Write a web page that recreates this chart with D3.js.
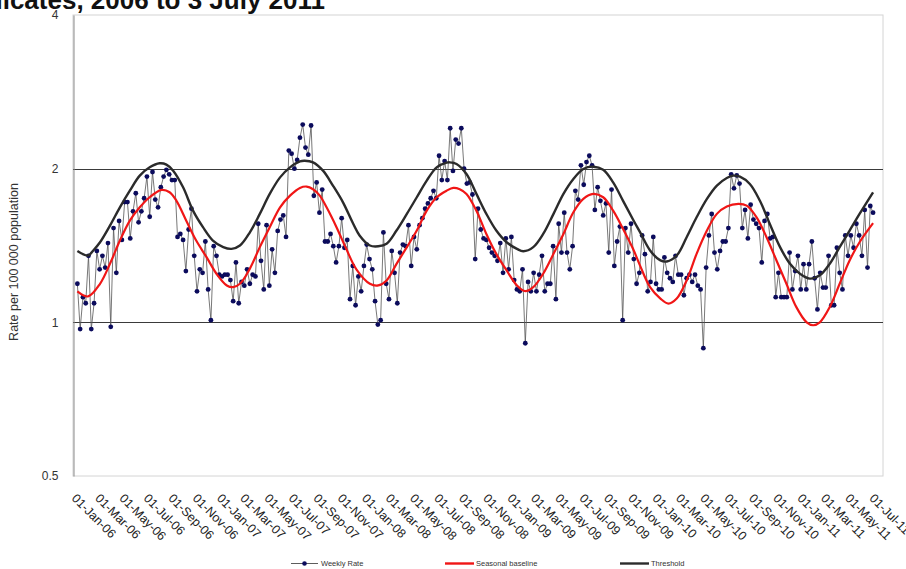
<!DOCTYPE html>
<html>
<head>
<meta charset="utf-8">
<script src="https://cdn.jsdelivr.net/npm/d3@7"></script>
<style>
  html, body { margin: 0; padding: 0; background: #fff; }
  svg { display: block; font-family: "Liberation Sans", Arial, sans-serif; }
</style>
</head>
<body>
<svg id="chart" width="906" height="569"></svg>
<script>
// Weekly notification rate per 100 000 population, weeks ending 8 Jan 2006 .. 3 Jul 2011
const firstWeek = "2006-01-08";
const weeklyRate = [
  1.19, 0.97, 1.12, 1.09, 1.35, 0.97, 1.09, 1.38, 1.27, 1.35,
  1.28, 1.43, 0.98, 1.53, 1.25, 1.58, 1.45, 1.72, 1.72, 1.46,
  1.65, 1.79, 1.57, 1.65, 1.75, 1.93, 1.61, 1.97, 1.74, 1.68,
  1.84, 1.93, 1.99, 1.95, 1.90, 1.90, 1.47, 1.49, 1.45, 1.26,
  1.52, 1.67, 1.35, 1.15, 1.27, 1.25, 1.44, 1.16, 1.01, 1.41,
  1.35, 1.24, 1.23, 1.24, 1.24, 1.21, 1.10, 1.31, 1.09, 1.20,
  1.18, 1.27, 1.19, 1.24, 1.23, 1.56, 1.32, 1.16, 1.55, 1.18,
  1.39, 1.25, 1.51, 1.59, 1.62, 1.47, 2.17, 2.14, 2.00, 2.08,
  2.30, 2.44, 2.20, 2.13, 2.43, 1.77, 1.88, 1.64, 1.82, 1.44,
  1.44, 1.49, 1.41, 1.31, 1.41, 1.60, 1.40, 1.45, 1.11, 1.29,
  1.08, 1.23, 1.15, 1.29, 1.42, 1.33, 1.27, 1.10, 0.99, 1.01,
  1.50, 1.19, 1.11, 1.38, 1.25, 1.09, 1.37, 1.42, 1.41, 1.55,
  1.29, 1.47, 1.39, 1.55, 1.60, 1.67, 1.71, 1.75, 1.81, 1.75,
  2.12, 1.90, 2.07, 1.90, 2.40, 1.98, 2.28, 2.24, 2.40, 2.00,
  1.87, 1.88, 1.78, 1.33, 1.67, 1.52, 1.46, 1.45, 1.40, 1.37,
  1.35, 1.32, 1.43, 1.25, 1.46, 1.27, 1.47, 1.21, 1.16, 1.15,
  1.27, 0.91, 1.20, 1.15, 1.25, 1.15, 1.24, 1.35, 1.15, 1.19,
  1.19, 1.41, 1.11, 1.56, 1.37, 1.64, 1.37, 1.27, 1.41, 1.81,
  1.74, 2.03, 1.86, 2.06, 2.12, 2.03, 1.66, 1.84, 1.73, 1.62,
  1.71, 1.37, 1.82, 1.29, 1.44, 1.54, 1.01, 1.53, 1.37, 1.56,
  1.33, 1.19, 1.25, 1.48, 1.36, 1.15, 1.20, 1.47, 1.19, 1.16,
  1.16, 1.34, 1.25, 1.22, 1.20, 1.35, 1.24, 1.24, 1.13, 1.22,
  1.24, 1.20, 1.24, 1.18, 1.16, 0.89, 1.28, 1.48, 1.63, 1.37,
  1.27, 1.38, 1.44, 1.44, 1.53, 1.95, 1.83, 1.94, 1.87, 1.53,
  1.66, 1.46, 1.70, 1.59, 1.56, 1.53, 1.31, 1.58, 1.63, 1.46,
  1.47, 1.12, 1.25, 1.12, 1.12, 1.12, 1.37, 1.16, 1.26, 1.35,
  1.16, 1.30, 1.16, 1.30, 1.44, 1.22, 1.06, 1.25, 1.17, 1.17,
  1.35, 1.08, 1.08, 1.40, 1.25, 1.16, 1.48, 1.35, 1.48, 1.40,
  1.56, 1.48, 1.35, 1.66, 1.28, 1.69, 1.64
];

// Seasonal baseline, [date, rate]
const baselineDates = [
  "2006-01-08","2006-02-04","2006-03-06","2006-03-31","2006-04-25","2006-05-20","2006-06-14","2006-07-09",
  "2006-08-08","2006-08-28","2006-09-14","2006-10-09","2006-11-03","2006-11-29","2006-12-24",
  "2007-01-19","2007-02-04","2007-02-21","2007-03-18","2007-04-12","2007-05-07","2007-06-02","2007-06-27",
  "2007-07-22","2007-08-08","2007-08-24","2007-09-10","2007-09-27","2007-10-22","2007-11-16","2007-12-11",
  "2008-01-14","2008-02-04","2008-02-25","2008-03-21","2008-04-16","2008-05-11","2008-06-05","2008-06-30",
  "2008-07-25","2008-08-11","2008-08-27","2008-09-13","2008-10-08","2008-11-02","2008-11-27","2008-12-23",
  "2009-01-18","2009-02-08","2009-02-28","2009-03-25","2009-04-20","2009-05-15","2009-06-09","2009-07-04",
  "2009-07-29","2009-08-23","2009-09-17","2009-10-12","2009-11-06","2009-11-24","2009-12-19",
  "2010-01-14","2010-02-03","2010-02-24","2010-03-21","2010-04-15","2010-05-11","2010-06-05","2010-06-30",
  "2010-07-29","2010-08-19","2010-09-13","2010-10-08","2010-11-02","2010-11-27","2010-12-22",
  "2011-01-17","2011-02-02","2011-02-19","2011-03-16","2011-04-10","2011-05-05","2011-05-30","2011-07-03"
];
const baselineValues = [
  1.15, 1.124, 1.19, 1.302, 1.446, 1.582, 1.68, 1.758,
  1.817, 1.798, 1.732, 1.582, 1.446, 1.342, 1.245,
  1.181, 1.172, 1.19, 1.274, 1.404, 1.536, 1.68, 1.771,
  1.834, 1.845, 1.823, 1.771, 1.68, 1.536, 1.39, 1.27,
  1.19, 1.181, 1.208, 1.302, 1.404, 1.513, 1.655, 1.758,
  1.811, 1.834, 1.823, 1.785, 1.655, 1.49, 1.362, 1.264,
  1.181, 1.151, 1.172, 1.245, 1.362, 1.49, 1.643, 1.745,
  1.785, 1.758, 1.655, 1.524, 1.394, 1.29, 1.172,
  1.113, 1.088, 1.113, 1.208, 1.362, 1.513, 1.631, 1.686,
  1.706, 1.693, 1.606, 1.468, 1.322, 1.19, 1.071,
  1.0, 0.987, 1.0, 1.071, 1.19, 1.322, 1.435, 1.564
];

// Epidemic threshold, [date, rate]
const thresholdDates = [
  "2006-01-08","2006-02-04","2006-02-17","2006-03-06","2006-03-31","2006-04-25","2006-05-20","2006-06-14",
  "2006-07-09","2006-08-03","2006-08-20","2006-09-06","2006-10-01","2006-10-26","2006-11-20","2006-12-15",
  "2007-01-10","2007-01-31","2007-02-21","2007-03-18","2007-04-12","2007-05-07","2007-06-02","2007-06-27",
  "2007-07-22","2007-08-03","2007-08-24","2007-09-18","2007-10-13","2007-11-07","2007-12-03","2007-12-19",
  "2008-01-14","2008-02-04","2008-02-25","2008-03-21","2008-04-16","2008-05-11","2008-06-05","2008-06-30",
  "2008-07-25","2008-08-02","2008-08-19","2008-09-13","2008-10-08","2008-11-02","2008-11-27","2008-12-23",
  "2009-01-18","2009-02-03","2009-02-28","2009-03-25","2009-04-20","2009-05-15","2009-06-09","2009-07-04",
  "2009-07-29","2009-08-23","2009-09-17","2009-10-12","2009-11-06","2009-11-24","2009-12-19",
  "2010-01-14","2010-01-30","2010-02-24","2010-03-21","2010-04-15","2010-05-11","2010-06-05","2010-06-30",
  "2010-07-16","2010-08-02","2010-08-27","2010-09-21","2010-10-16","2010-11-11","2010-12-06","2010-12-31",
  "2011-01-25","2011-02-19","2011-03-16","2011-04-10","2011-05-05","2011-05-30","2011-07-03"
];
const thresholdValues = [
  1.38, 1.352, 1.383, 1.435, 1.547, 1.68, 1.811, 1.938,
  2.012, 2.049, 2.037, 1.982, 1.839, 1.655, 1.536, 1.446,
  1.404, 1.393, 1.414, 1.501, 1.631, 1.785, 1.923, 2.012,
  2.067, 2.073, 2.058, 1.982, 1.853, 1.72, 1.56, 1.48,
  1.414, 1.409, 1.425, 1.513, 1.631, 1.758, 1.895, 2.012,
  2.055, 2.058, 2.043, 1.952, 1.785, 1.631, 1.513, 1.435,
  1.393, 1.378, 1.404, 1.49, 1.631, 1.785, 1.909, 1.997,
  2.018, 1.99, 1.88, 1.73, 1.59, 1.50, 1.383,
  1.322, 1.316, 1.352, 1.468, 1.606, 1.745, 1.853, 1.918,
  1.938, 1.929, 1.866, 1.732, 1.56, 1.404, 1.302, 1.245,
  1.218, 1.236, 1.302, 1.404, 1.513, 1.631, 1.798
];

const yTicks = [0.5, 1, 2, 4];
const gridValues = [1, 2];
const titleText = "licates, 2006 to 3 July 2011";
const yTitle = "Rate per 100 000 population";
const legendItems = ["Weekly Rate", "Seasonal baseline", "Threshold"];

const parse = d3.utcParse("%Y-%m-%d");
const start = parse(firstWeek);
const weekly = weeklyRate.map((v, i) => ({ date: d3.utcDay.offset(start, 7 * i), value: v }));
const baseline = baselineDates.map((d, i) => ({ date: parse(d), value: baselineValues[i] }));
const threshold = thresholdDates.map((d, i) => ({ date: parse(d), value: thresholdValues[i] }));

const plot = { left: 73, right: 883, top: 15, bottom: 476 };
const svg = d3.select("#chart");

const x = d3.scaleUtc()
  .domain([parse("2005-12-28"), parse("2011-07-28")])
  .range([plot.left, plot.right]);
const y = d3.scaleLog()
  .domain([0.5, 4])
  .range([plot.bottom, plot.top]);

// title (partly above the page edge)
svg.append("text")
  .attr("x", 325).attr("y", 8.5)
  .attr("text-anchor", "end")
  .attr("font-size", 26).attr("font-weight", "bold")
  .attr("fill", "#111")
  .text(titleText);

// plot frame
svg.append("rect")
  .attr("x", plot.left).attr("y", plot.top)
  .attr("width", plot.right - plot.left).attr("height", plot.bottom - plot.top)
  .attr("fill", "none").attr("stroke", "#d4d4d4").attr("stroke-width", 1);

// gridlines
svg.append("g").selectAll("line").data(gridValues).join("line")
  .attr("x1", plot.left).attr("x2", plot.right)
  .attr("y1", d => Math.round(y(d)) + 0.5).attr("y2", d => Math.round(y(d)) + 0.5)
  .attr("stroke", "#3a3a3a").attr("stroke-width", 1);

// y axis
const yAxis = svg.append("g")
  .attr("transform", `translate(${plot.left + 0.5},0)`)
  .call(d3.axisLeft(y).tickValues(yTicks).tickFormat(d => String(d)).tickSize(0).tickPadding(15));
yAxis.select(".domain").attr("stroke", "#8a8a8a");
yAxis.selectAll("text").attr("font-size", 12).attr("fill", "#333").attr("font-family", "Liberation Sans, Arial, sans-serif");

svg.append("text")
  .attr("transform", "translate(18,262) rotate(-90)")
  .attr("text-anchor", "middle")
  .attr("font-size", 12.5).attr("fill", "#333")
  .text(yTitle);

// x axis: date labels every two months
const xAxis = svg.append("g")
  .attr("transform", `translate(0,${plot.bottom})`)
  .call(d3.axisBottom(x)
    .tickValues(d3.utcMonth.range(parse("2006-01-01"), parse("2011-07-02"), 2))
    .tickFormat(d3.utcFormat("%d-%b-%y")).tickSize(0));
xAxis.select(".domain").remove();
xAxis.selectAll("text")
  .attr("x", 0).attr("y", 0).attr("dy", 0)
  .attr("text-anchor", "start")
  .attr("transform", "translate(-4,23) rotate(45)")
  .attr("font-size", 12.5).attr("fill", "#222")
  .attr("font-family", "Liberation Sans, Arial, sans-serif");

// weekly rate series
const lineWeekly = d3.line().x(d => x(d.date)).y(d => y(d.value));
svg.append("path").datum(weekly)
  .attr("d", lineWeekly)
  .attr("fill", "none").attr("stroke", "#555").attr("stroke-width", 0.8);
svg.append("g").selectAll("circle").data(weekly).join("circle")
  .attr("cx", d => x(d.date)).attr("cy", d => y(d.value))
  .attr("r", 2.4).attr("fill", "#0b0b5c");

// smooth seasonal curves
const smooth = d3.line().x(d => x(d.date)).y(d => y(d.value)).curve(d3.curveCatmullRom.alpha(0.5));
svg.append("path").datum(baseline)
  .attr("d", smooth)
  .attr("fill", "none").attr("stroke", "#f01616").attr("stroke-width", 2.2);
svg.append("path").datum(threshold)
  .attr("d", smooth)
  .attr("fill", "none").attr("stroke", "#2b2b2b").attr("stroke-width", 2.4);

// legend
const legend = svg.append("g").attr("font-size", 7.5).attr("fill", "#333");
const ly = 563.5;
legend.append("line").attr("x1", 291).attr("x2", 318).attr("y1", ly).attr("y2", ly)
  .attr("stroke", "#333").attr("stroke-width", 0.8);
legend.append("circle").attr("cx", 304.5).attr("cy", ly).attr("r", 2.3).attr("fill", "#0b0b5c");
legend.append("text").attr("x", 321).attr("y", ly + 2.6).text(legendItems[0]);
legend.append("line").attr("x1", 445).attr("x2", 474).attr("y1", ly).attr("y2", ly)
  .attr("stroke", "#f01616").attr("stroke-width", 2.4);
legend.append("text").attr("x", 476).attr("y", ly + 2.6).text(legendItems[1]);
legend.append("line").attr("x1", 620).attr("x2", 649).attr("y1", ly).attr("y2", ly)
  .attr("stroke", "#2b2b2b").attr("stroke-width", 2.4);
legend.append("text").attr("x", 651).attr("y", ly + 2.6).text(legendItems[2]);
</script>
</body>
</html>
